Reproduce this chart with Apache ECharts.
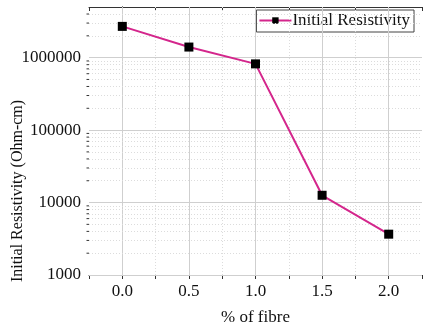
<!DOCTYPE html>
<html>
<head>
<meta charset="utf-8">
<script src="https://cdn.jsdelivr.net/npm/echarts@6/dist/echarts.min.js"></script>
<style>
  html, body { margin: 0; padding: 0; background: #fff; }
  #chart { width: 425px; height: 332px; }
</style>
</head>
<body>
<div id="chart"></div>
<script>
// data
const fibre = [0.0, 0.5, 1.0, 1.5, 2.0]
const resistivity = [2700000, 1400000, 820000, 12600, 3660]

// tick values
const xMajor = [0, 0.5, 1.0, 1.5, 2.0]
const xMinor = [0.25, 0.75, 1.25, 1.75]
const yDecades = [1000, 10000, 100000, 1000000]
const yMinor = []
yDecades.forEach(function (d) {
  for (let k = 2; k <= 9; k++) {
    if (d * k < 5000000) yMinor.push(d * k)
  }
})

const font = 'Liberation Serif'
const chart = echarts.init(document.getElementById('chart'))

const majorLine = { color: '#cfcfcf', width: 1, type: 'solid' }
const minorLine = { color: '#dcdcdc', width: 1, type: [1, 2] }

const gridMarks = []
xMajor.forEach(function (v) { gridMarks.push({ xAxis: v, lineStyle: majorLine }) })
xMinor.forEach(function (v) { gridMarks.push({ xAxis: v, lineStyle: minorLine }) })
yDecades.forEach(function (v) { gridMarks.push({ yAxis: v, lineStyle: majorLine }) })
yMinor.forEach(function (v) { gridMarks.push({ yAxis: v, lineStyle: minorLine }) })

const option = {
  backgroundColor: '#fff',
  animation: false,
  grid: { left: 89, top: 7, right: -2, bottom: 57 },
  legend: {
    right: 11,
    top: 10,
    padding: [2, 4, 3, 2],
    itemGap: 0,
    itemWidth: 32,
    itemHeight: 8,
    borderColor: '#444',
    borderWidth: 1,
    textStyle: { fontFamily: font, fontSize: 17, color: '#111', padding: [0, 0, 0, -4] },
    data: ['Initial Resistivity']
  },
  xAxis: [
    {
      type: 'value',
      min: -0.25,
      max: 2.25,
      interval: 0.25,
      name: '% of fibre',
      nameLocation: 'middle',
      nameGap: 34,
      nameTextStyle: { fontFamily: font, fontSize: 17, color: '#111' },
      axisLine: { lineStyle: { color: '#333', width: 1 } },
      axisTick: { show: true, length: 4, lineStyle: { color: '#333' } },
      axisLabel: {
        fontFamily: font, fontSize: 17, color: '#111', margin: 8,
        formatter: function (v) {
          return Math.abs(v * 2 - Math.round(v * 2)) < 1e-6 ? v.toFixed(1) : ''
        }
      },
      splitLine: { show: false }
    },
    {
      type: 'value',
      position: 'top',
      min: -0.25,
      max: 2.25,
      interval: 0.25,
      axisLine: { show: true, lineStyle: { color: '#333' } },
      axisTick: { show: true, inside: true, length: 4, lineStyle: { color: '#333' } },
      axisLabel: { show: false },
      splitLine: { show: false }
    }
  ],
  yAxis: [
    {
      type: 'log',
      logBase: 10,
      min: 1000,
      max: 5000000,
      axisLine: { show: true, lineStyle: { color: '#333' } },
      axisTick: { show: true, length: 4, lineStyle: { color: '#333' } },
      axisLabel: {
        fontFamily: font, fontSize: 17, color: '#111', margin: 8,
        formatter: function (v) {
          return yDecades.indexOf(Math.round(v)) >= 0 ? String(Math.round(v)) : ''
        }
      },
      splitLine: { show: false }
    },
    {
      type: 'log',
      logBase: 10,
      min: 1000,
      max: 5000000,
      position: 'right',
      axisLine: { show: true, lineStyle: { color: '#333' } },
      axisTick: { show: true, inside: true, length: 4, lineStyle: { color: '#333' } },
      axisLabel: { show: false },
      splitLine: { show: false }
    }
  ],
  graphic: [
    {
      type: 'text',
      x: 18,
      y: 191,
      rotation: Math.PI / 2,
      style: {
        text: 'Initial Resistivity (Ohm-cm)',
        fontFamily: font,
        fontSize: 16,
        fill: '#111',
        align: 'center',
        verticalAlign: 'middle'
      }
    }
  ],
  series: [
    {
      name: 'grid',
      type: 'line',
      data: [],
      silent: true,
      z: 1,
      markLine: {
        silent: true,
        symbol: 'none',
        label: { show: false },
        data: gridMarks
      }
    },
    {
      // minor ticks on the left log axis
      name: 'minorTicks',
      type: 'custom',
      silent: true,
      data: yMinor.map(function (v) { return [-0.25, v] }),
      renderItem: function (params, api) {
        const p = api.coord([api.value(0), api.value(1)])
        return {
          type: 'line',
          shape: { x1: p[0] - 2.5, y1: p[1], x2: p[0], y2: p[1] },
          style: { stroke: '#333', lineWidth: 1 }
        }
      },
      clip: false,
      z: 4
    },
    {
      name: 'Initial Resistivity',
      type: 'line',
      data: fibre.map(function (x, i) { return [x, resistivity[i]] }),
      symbol: 'rect',
      symbolSize: 9,
      lineStyle: { color: '#d4268c', width: 2 },
      itemStyle: { color: '#000', borderWidth: 0 },
      z: 5
    }
  ]
}

chart.setOption(option)
</script>
</body>
</html>
